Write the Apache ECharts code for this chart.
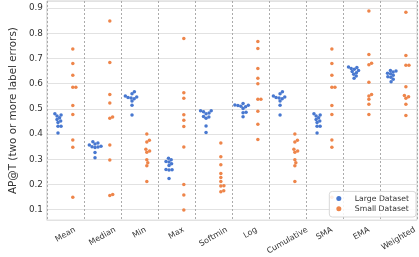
<!DOCTYPE html>
<html><head><meta charset="utf-8">
<script src="https://cdn.jsdelivr.net/npm/echarts@6/dist/echarts.min.js"></script>
<style>html,body{margin:0;padding:0;background:#fff}#c{width:419px;height:257px}</style>
</head><body><div id="c"></div>
<script>
const categories = ['Mean','Median','Min','Max','Softmin','Log','Cumulative','SMA','EMA','Weighted'];
const seriesNames = ['Large Dataset','Small Dataset'];
const yTicks = [0.1,0.2,0.3,0.4,0.5,0.6,0.7,0.8,0.9];

const largeMean       = [0.481,0.476,0.472,0.465,0.458,0.452,0.446,0.431,0.431,0.404];
const largeMedian     = [0.369,0.364,0.360,0.356,0.352,0.350,0.349,0.347,0.327,0.306];
const largeMin        = [0.568,0.560,0.551,0.547,0.545,0.543,0.540,0.531,0.514,0.476];
const largeMax        = [0.304,0.298,0.291,0.289,0.282,0.275,0.259,0.258,0.257,0.224];
const largeSoftmin    = [0.492,0.492,0.488,0.483,0.481,0.470,0.468,0.463,0.432,0.406];
const largeLog        = [0.521,0.515,0.514,0.513,0.510,0.508,0.501,0.486,0.484,0.469];
const largeCumulative = [0.568,0.560,0.551,0.547,0.545,0.543,0.540,0.531,0.514,0.476];
const largeSMA        = [0.481,0.476,0.472,0.465,0.458,0.452,0.446,0.431,0.431,0.404];
const largeEMA        = [0.666,0.664,0.660,0.657,0.652,0.648,0.643,0.637,0.630,0.621];
const largeWeighted   = [0.652,0.650,0.646,0.641,0.639,0.633,0.627,0.625,0.617,0.608];

const smallMean       = [0.737,0.680,0.633,0.586,0.586,0.513,0.478,0.376,0.348,0.149];
const smallMedian     = [0.849,0.684,0.557,0.523,0.468,0.463,0.356,0.297,0.160,0.156];
const smallMin        = [0.400,0.375,0.368,0.340,0.333,0.328,0.298,0.286,0.274,0.212];
const smallMax        = [0.779,0.564,0.542,0.477,0.455,0.430,0.349,0.200,0.158,0.099];
const smallSoftmin    = [0.364,0.310,0.278,0.243,0.227,0.212,0.195,0.194,0.175,0.171];
const smallLog        = [0.767,0.739,0.660,0.621,0.600,0.538,0.538,0.490,0.439,0.378];
const smallCumulative = [0.400,0.375,0.368,0.340,0.333,0.328,0.298,0.286,0.274,0.212];
const smallSMA        = [0.737,0.680,0.633,0.586,0.586,0.513,0.478,0.376,0.348,0.149];
const smallEMA        = [0.888,0.716,0.681,0.675,0.606,0.557,0.551,0.538,0.518,0.478];
const smallWeighted   = [0.883,0.712,0.673,0.673,0.588,0.553,0.548,0.542,0.518,0.474];

const largeData = [largeMean,largeMedian,largeMin,largeMax,largeSoftmin,largeLog,largeCumulative,largeSMA,largeEMA,largeWeighted];
const smallData = [smallMean,smallMedian,smallMin,smallMax,smallSoftmin,smallLog,smallCumulative,smallSMA,smallEMA,smallWeighted];

// layout
const W = 419, H = 257;
const grid = {left: 30, right: 2, top: 1, bottom: 36};
const yMin = 0.058, yMax = 0.928;
const plotW = W - grid.left - grid.right, plotH = H - grid.top - grid.bottom;
const pxPerCat = plotW / categories.length;
const pxPerY = plotH / (yMax - yMin);
const dotD = 3.2;
const dodge = 0.2;
const FONT = 'DejaVu Sans';
const xFont = 8;

function swarmOffsets(values) {
  const order = values.map((v,i)=>i).sort((a,b)=>values[a]-values[b]);
  const placed = [], offs = new Array(values.length);
  for (const i of order) {
    const y = values[i]*pxPerY;
    const cands = [0];
    for (const p of placed) {
      const dy = Math.abs(p.y - y);
      if (dy < dotD) { const dx = Math.sqrt(dotD*dotD - dy*dy); cands.push(p.x+dx, p.x-dx); }
    }
    cands.sort((a,b)=>Math.abs(a)-Math.abs(b));
    let chosen = 0;
    for (const c of cands) {
      if (placed.every(p => (p.x-c)*(p.x-c)+(p.y-y)*(p.y-y) >= dotD*dotD - 1e-6)) { chosen = c; break; }
    }
    placed.push({x: chosen, y}); offs[i] = chosen;
  }
  return offs;
}

function buildPoints(groups, side) {
  const pts = [];
  groups.forEach((vals, ci) => {
    const offs = swarmOffsets(vals);
    vals.forEach((v, k) => pts.push([ci + side*dodge + offs[k]/pxPerCat, v]));
  });
  return pts;
}

// rotated labels: centred horizontally, top of rotated box aligned (matplotlib-like)
const measureCtx = document.createElement('canvas').getContext('2d');
measureCtx.font = xFont + 'px "' + FONT + '"';
const rich = {};
categories.forEach((c, i) => {
  const w = measureCtx.measureText(c).width;
  const d = w / 4;
  rich['c' + i] = {fontSize: xFont, color: '#333', fontFamily: FONT,
    padding: [2 * d * Math.cos(Math.PI/6), 2 * d * Math.sin(Math.PI/6), 0, 0]};
});

const colors = ['#4878d0', '#ee854a'];
const chart = echarts.init(document.getElementById('c'), null, {renderer: 'canvas'});
chart.setOption({
  animation: false,
  backgroundColor: '#ffffff',
  textStyle: {fontFamily: FONT},
  grid: {left: grid.left, right: grid.right, top: grid.top, bottom: grid.bottom, show: true, borderColor: '#d0d0d0', borderWidth: 1, backgroundColor: 'transparent'},
  legend: {
    orient: 'vertical', right: 3, bottom: 40,
    padding: [2, 7, 3, 7], itemGap: 0, itemWidth: 12, itemHeight: 5,
    backgroundColor: 'rgba(255,255,255,0.85)', borderColor: '#d8d8d8', borderWidth: 1, borderRadius: 3,
    textStyle: {fontSize: 7.7, color: '#333', lineHeight: 10.3, padding: [0,0,0,5], fontFamily: FONT},
    data: seriesNames.map(n => ({name: n, icon: 'circle'}))
  },
  xAxis: [
    {type: 'category', data: categories, boundaryGap: true,
     axisLine: {show: false}, axisTick: {show: false, interval: 0},
     splitLine: {show: true, interval: 0, lineStyle: {color: '#ababab', type: [2, 2], width: 1}},
     axisLabel: {interval: 0, rotate: 30, align: 'center', verticalAlign: 'middle', margin: 9,
       formatter: (v, i) => '{c' + i + '|' + v + '}', rich: rich}},
    {type: 'value', min: -0.5, max: categories.length - 0.5, show: false}
  ],
  yAxis: {
    type: 'value', min: yMin, max: yMax, minInterval: 0.1, maxInterval: 0.1,
    name: 'AP@T (two or more label errors)', nameLocation: 'middle', nameGap: 22,
    nameTextStyle: {fontSize: 10.4, color: '#333', fontFamily: FONT},
    axisLine: {show: false}, axisTick: {show: false},
    splitLine: {lineStyle: {color: '#e2e2e2', width: 1}},
    axisLabel: {margin: 4, fontSize: 8.8, color: '#333', showMinLabel: false, showMaxLabel: false,
      formatter: v => yTicks.some(t => Math.abs(t - v) < 1e-6) ? v.toFixed(1) : ''}
  },
  series: [
    {name: seriesNames[0], type: 'scatter', xAxisIndex: 1, symbol: 'circle', symbolSize: 3.5,
     itemStyle: {color: colors[0], opacity: 1}, data: buildPoints(largeData, -1)},
    {name: seriesNames[1], type: 'scatter', xAxisIndex: 1, symbol: 'circle', symbolSize: 3.5,
     itemStyle: {color: colors[1], opacity: 1}, data: buildPoints(smallData, 1)}
  ]
});
</script></body></html>
